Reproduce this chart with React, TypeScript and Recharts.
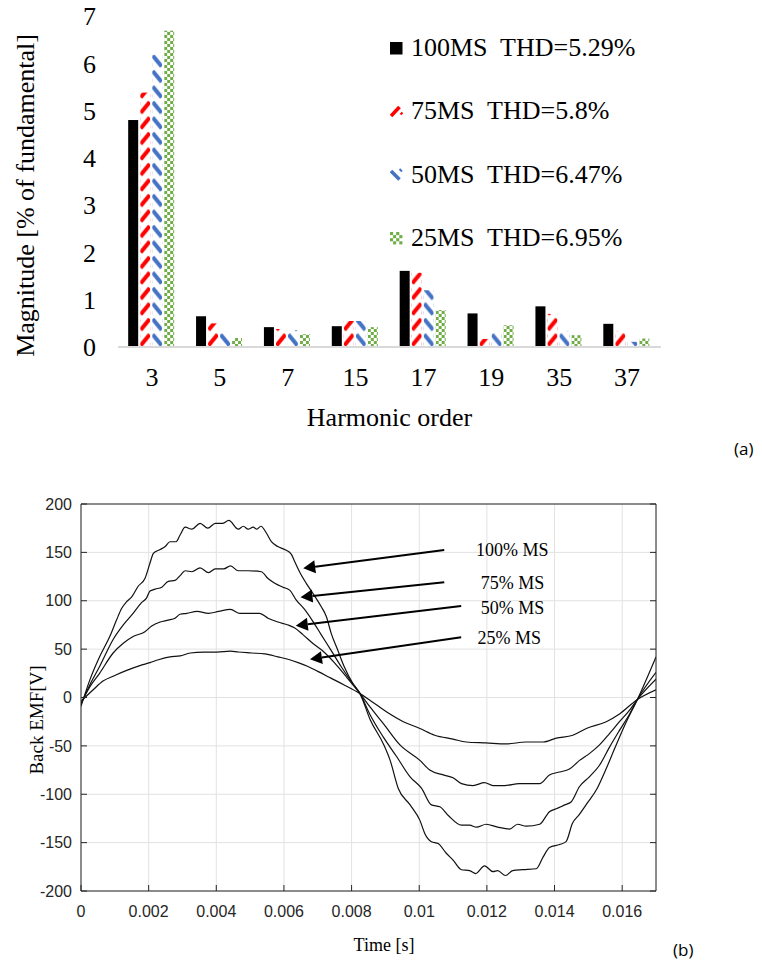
import React from 'react';
import {
  BarChart,
  Bar,
  XAxis,
  YAxis,
  LineChart,
  Line,
  CartesianGrid,
  ReferenceLine,
  ReferenceDot,
} from 'recharts';

// ---- (a) harmonic spectrum ----
const HARMONICS = ['3', '5', '7', '15', '17', '19', '35', '37'];
const MS100 = [4.8, 0.65, 0.42, 0.44, 1.61, 0.71, 0.86, 0.49];
const MS75 = [5.38, 0.5, 0.38, 0.55, 1.57, 0.17, 0.7, 0.34];
const MS50 = [6.18, 0.29, 0.36, 0.55, 1.2, 0.32, 0.34, 0.11];
const MS25 = [6.69, 0.19, 0.27, 0.42, 0.78, 0.46, 0.25, 0.18];
const Y_TICKS_A = [0, 1, 2, 3, 4, 5, 6, 7];

const SERIES = [
  { key: 'ms100', name: '100MS', thd: '5.29%', kind: 'solid' },
  { key: 'ms75', name: '75MS', thd: '5.8%', kind: 'red' },
  { key: 'ms50', name: '50MS', thd: '6.47%', kind: 'blue' },
  { key: 'ms25', name: '25MS', thd: '6.95%', kind: 'green' },
];

const barData = HARMONICS.map((h, i) => ({
  h,
  ms100: MS100[i],
  ms75: MS75[i],
  ms50: MS50[i],
  ms25: MS25[i],
}));

// ---- (b) back EMF waveforms (time in ms) ----
const W100_T = [0, 0.26, 0.55, 0.85, 1.05, 1.2, 1.35, 1.5, 1.69, 1.89, 2.04, 2.14, 2.34, 2.49, 2.63, 2.81, 2.93, 3.08, 3.28, 3.52, 3.75, 3.97, 4.18, 4.37, 4.65, 4.8, 4.94, 5.09, 5.2, 5.32, 5.48, 5.63, 5.82, 6.02, 6.22, 6.31, 6.46, 6.66, 6.85, 7.1, 7.25, 7.4, 7.59, 7.78, 8.03, 8.25, 8.55, 8.94, 9.14, 9.38, 9.73, 10.02, 10.17, 10.36, 10.56, 10.8, 11.0, 11.25, 11.49, 11.67, 11.93, 12.18, 12.32, 12.55, 12.76, 13.06, 13.46, 13.66, 13.85, 14.15, 14.34, 14.53, 14.73, 14.97, 15.26, 15.51, 15.8, 16.1, 16.45, 17.0];
const W100_V = [-9, 18, 42, 63, 80, 92, 99, 104, 115, 123, 139, 149, 153, 156, 161, 161, 168, 176, 174, 180, 175, 180, 180, 183, 174, 177, 174, 176, 174, 177, 170, 161, 156, 153, 148, 141, 130, 118, 108, 94, 84, 66, 49, 32, 15, 4, -23, -48, -65, -94, -111, -127, -141, -149, -151, -161, -168, -178, -179, -182, -174, -180, -179, -184, -179, -178, -177, -165, -155, -152, -149, -130, -121, -109, -94, -75, -51, -27, -2, 42];

const W75_T = [0, 0.26, 0.55, 0.95, 1.25, 1.54, 1.79, 1.94, 2.04, 2.19, 2.39, 2.58, 2.78, 2.93, 3.08, 3.28, 3.52, 3.77, 3.97, 4.22, 4.42, 4.65, 4.94, 5.33, 5.53, 5.73, 5.97, 6.17, 6.36, 6.61, 6.85, 7.1, 7.39, 7.69, 7.98, 8.25, 8.55, 8.94, 9.33, 9.73, 10.07, 10.36, 10.61, 10.86, 11.25, 11.49, 11.69, 11.98, 12.32, 12.67, 12.91, 13.16, 13.56, 13.85, 14.05, 14.3, 14.49, 14.74, 15.03, 15.33, 15.63, 15.92, 16.22, 16.45, 17.0];
const W75_V = [-7, 13, 32, 60, 75, 87, 98, 103, 110, 112, 114, 120, 121, 126, 131, 130, 134, 129, 133, 133, 136, 131, 131, 130, 123, 118, 114, 111, 101, 91, 79, 65, 49, 32, 17, 4, -18, -41, -61, -82, -94, -111, -113, -122, -132, -132, -134, -131, -134, -136, -131, -133, -131, -118, -115, -111, -108, -92, -82, -70, -51, -34, -17, -2, 26];

const W50_T = [0, 0.26, 0.55, 0.95, 1.25, 1.54, 1.89, 2.09, 2.34, 2.58, 2.78, 2.93, 3.13, 3.43, 3.77, 4.07, 4.42, 4.7, 5.04, 5.28, 5.53, 5.82, 6.12, 6.31, 6.56, 6.85, 7.15, 7.49, 7.83, 8.25, 8.55, 8.94, 9.43, 10.02, 10.31, 10.71, 11.0, 11.25, 11.59, 11.93, 12.18, 12.52, 12.96, 13.56, 13.85, 14.15, 14.44, 14.74, 15.03, 15.33, 15.63, 15.92, 16.22, 16.45, 17.0];
const W50_V = [-6, 11, 25, 46, 56, 63, 68, 74, 78, 80, 82, 86, 87, 89, 87, 89, 91, 87, 87, 87, 82, 78, 75, 72, 65, 56, 48, 36, 22, 4, -10, -27, -49, -65, -75, -80, -83, -89, -91, -88, -91, -91, -89, -89, -80, -77, -74, -65, -58, -49, -37, -25, -13, -2, 19];

const W25_T = [0, 0.36, 0.65, 0.95, 1.35, 1.74, 2.04, 2.29, 2.63, 2.93, 3.23, 3.62, 4.02, 4.42, 4.65, 5.04, 5.43, 5.82, 6.17, 6.42, 6.71, 7.0, 7.39, 7.78, 8.25, 8.55, 9.04, 9.53, 10.02, 10.46, 11.0, 11.39, 11.98, 12.57, 13.16, 13.66, 14.05, 14.54, 14.94, 15.53, 15.92, 16.45, 17.0];
const W25_V = [-4, 8, 17, 22, 28, 33, 36, 39, 42, 43, 46, 47, 47, 48, 47, 46, 45, 42, 39, 36, 32, 27, 20, 13, 4, -3, -15, -25, -32, -39, -43, -46, -47, -48, -46, -46, -42, -39, -32, -25, -17, -2, 8];

const X_TICKS_B = [0, 2, 4, 6, 8, 10, 12, 14, 16];
const X_TICK_LABELS_B = ['0', '0.002', '0.004', '0.006', '0.008', '0.01', '0.012', '0.014', '0.016'];
const Y_TICKS_B = [-200, -150, -100, -50, 0, 50, 100, 150, 200];

// annotation arrows (data coords: ms, V)
const NOTE_LABELS = ['100% MS', '75% MS', '50% MS', '25% MS'];
const NOTE_T = [12.75, 12.76, 12.76, 12.66];
const NOTE_V = [152.5, 119.1, 93.2, 62.2];
const ARROW_FROM_T = [10.74, 10.74, 11.24, 11.24];
const ARROW_FROM_V = [152.5, 119, 94.6, 62.2];
const ARROW_TO_T = [6.57, 6.49, 6.35, 6.77];
const ARROW_TO_V = [133.5, 103.6, 74.2, 39.5];

const toPoints = (ts: number[], vs: number[]) => ts.map((t, i) => ({ t, v: vs[i] }));
const WAVES = [
  { key: 'w100', data: toPoints(W100_T, W100_V) },
  { key: 'w75', data: toPoints(W75_T, W75_V) },
  { key: 'w50', data: toPoints(W50_T, W50_V) },
  { key: 'w25', data: toPoints(W25_T, W25_V) },
];

const SERIF = '"Liberation Serif", "Times New Roman", serif';
const SANS = '"Liberation Sans", Arial, sans-serif';
const RED = '#FF0000';
const BLUE = '#4472C4';
const GREEN = '#70AD47';

const HatchBar = (props: any) => {
  const { x, y, width, height, index, kind } = props;
  if (!height || height <= 0) return null;
  if (kind === 'solid') return <rect x={x} y={y} width={width} height={height} fill="#000" />;
  const id = `hatch-${kind}-${index}`;
  const bottom = y + height;
  let pat;
  if (kind === 'red') {
    pat = (
      <pattern id={id} patternUnits="userSpaceOnUse" x={x} y={bottom} width={width} height={15.5}>
        <line x1={0.5} y1={14} x2={width - 0.5} y2={3} stroke={RED} strokeWidth={4} />
      </pattern>
    );
  } else if (kind === 'blue') {
    pat = (
      <pattern id={id} patternUnits="userSpaceOnUse" x={x} y={bottom} width={width} height={15.5}>
        <line x1={0.5} y1={3} x2={width - 0.5} y2={14} stroke={BLUE} strokeWidth={4} />
      </pattern>
    );
  } else {
    pat = (
      <pattern id={id} patternUnits="userSpaceOnUse" x={x} y={bottom} width={6} height={6}>
        <rect x={0} y={0} width={3} height={3} fill={GREEN} />
        <rect x={3} y={3} width={3} height={3} fill={GREEN} />
      </pattern>
    );
  }
  return (
    <g>
      <defs>{pat}</defs>
      <rect x={x} y={y} width={width} height={height} fill={`url(#${id})`} />
    </g>
  );
};

const LegendIcon = ({ kind }: { kind: string }) => {
  if (kind === 'solid') return <rect x={0} y={0} width={12.5} height={12.5} fill="#000" />;
  if (kind === 'red')
    return (
      <g>
        <line x1={1} y1={11} x2={9.5} y2={2} stroke={RED} strokeWidth={3.6} />
        <line x1={10.5} y1={9.5} x2={12.5} y2={7.5} stroke={RED} strokeWidth={2} />
      </g>
    );
  if (kind === 'blue')
    return (
      <g>
        <line x1={1} y1={3} x2={9.5} y2={11.5} stroke={BLUE} strokeWidth={3.6} />
        <line x1={9.5} y1={1} x2={12} y2={3.5} stroke={BLUE} strokeWidth={2} />
      </g>
    );
  const cells = [];
  for (let r = 0; r < 4; r++)
    for (let c = 0; c < 4; c++)
      if ((r + c) % 2 === 0) cells.push(<rect key={`${r}-${c}`} x={c * 3.1} y={r * 3.1} width={3.1} height={3.1} fill={GREEN} />);
  return <g>{cells}</g>;
};

const SpectrumLegend = () => (
  <div style={{ fontFamily: SERIF, fontSize: 26, color: '#000' }}>
    {SERIES.map((s) => (
      <div key={s.key} style={{ height: 63.3, display: 'flex', alignItems: 'center', whiteSpace: 'pre' }}>
        <svg width={13} height={13} style={{ marginRight: 8 }}>
          <LegendIcon kind={s.kind} />
        </svg>
        <span>{`${s.name}  THD=${s.thd}`}</span>
      </div>
    ))}
  </div>
);

const AxisTitle = (props: any) => {
  const { viewBox, text, dx = 0, dy = 0, size, rotate } = props;
  if (!viewBox) return null;
  const cx = rotate ? viewBox.x + dx : viewBox.x + viewBox.width / 2 + dx;
  const cy = rotate ? viewBox.y + viewBox.height / 2 + dy : viewBox.y + dy;
  return (
    <text
      x={cx}
      y={cy}
      transform={rotate ? `rotate(-90 ${cx} ${cy})` : undefined}
      textAnchor="middle"
      dominantBaseline="central"
      fontFamily={SERIF}
      fontSize={size}
      fill="#000"
    >
      {text}
    </text>
  );
};

const Arrow = (props: any) => {
  const { x1, y1, x2, y2 } = props;
  if ([x1, y1, x2, y2].some((v) => typeof v !== 'number')) return null;
  const dx = x2 - x1;
  const dy = y2 - y1;
  const len = Math.hypot(dx, dy) || 1;
  const ux = dx / len;
  const uy = dy / len;
  const hl = 12;
  const hw = 6.5;
  const bx = x2 - ux * hl;
  const by = y2 - uy * hl;
  const pts = `${x2},${y2} ${bx - uy * hw},${by + ux * hw} ${bx + uy * hw},${by - ux * hw}`;
  return (
    <g>
      <line x1={x1} y1={y1} x2={bx} y2={by} stroke="#000" strokeWidth={2} />
      <polygon points={pts} fill="#000" />
    </g>
  );
};

const noTick = () => <g />;

export default function App() {
  return (
    <div style={{ position: 'relative', width: 762, height: 964, background: '#fff' }}>
      <style>{'body{margin:0}'}</style>

      <div style={{ position: 'absolute', left: 0, top: 0 }}>
        <BarChart
          width={762}
          height={440}
          data={barData}
          margin={{ top: 16, right: 101, left: 0, bottom: 0 }}
          barCategoryGap="15%"
          barGap={2}
        >
          <XAxis
            dataKey="h"
            height={93}
            interval={0}
            axisLine={{ stroke: '#d9d9d9', strokeWidth: 2 }}
            tickLine={false}
            tickSize={0}
            tickMargin={21}
            tick={{ fill: '#000', fontSize: 26, fontFamily: SERIF }}
            label={<AxisTitle text="Harmonic order" dy={70} size={26} />}
          />
          <YAxis
            width={118}
            domain={[0, 7]}
            ticks={Y_TICKS_A}
            interval={0}
            allowDataOverflow
            axisLine={false}
            tickLine={false}
            tickSize={0}
            tickMargin={22}
            tick={{ fill: '#000', fontSize: 26, fontFamily: SERIF }}
            label={<AxisTitle text="Magnitude [% of fundamental]" rotate dx={25} dy={14} size={26} />}
          />
          {SERIES.map((s) => (
            <Bar
              key={s.key}
              dataKey={s.key}
              name={s.name}
              isAnimationActive={false}
              shape={(p: any) => <HatchBar {...p} kind={s.kind} />}
            />
          ))}
        </BarChart>
      </div>

      <div style={{ position: 'absolute', left: 390, top: 16.5, width: 340 }}>
        <SpectrumLegend />
      </div>

      <div style={{ position: 'absolute', left: 734, top: 437, fontFamily: '"Open Sans", sans-serif', fontSize: 17 }}>(a)</div>

      <div style={{ position: 'absolute', left: 0, top: 480 }}>
        <LineChart width={762} height={484} margin={{ top: 23, right: 105, left: 0, bottom: 0 }}>
          <CartesianGrid stroke="#e2e2e2" />
          <XAxis
            type="number"
            dataKey="t"
            domain={[0, 17]}
            ticks={X_TICKS_B}
            allowDataOverflow
            tickFormatter={(v: number, i: number) => X_TICK_LABELS_B[i]}
            height={73}
            axisLine={{ stroke: '#262626' }}
            tickLine={{ stroke: '#262626' }}
            tickSize={-6}
            tickMargin={21}
            tick={{ fill: '#262626', fontSize: 16, fontFamily: SANS }}
            label={<AxisTitle text="Time [s]" dx={15.5} dy={54} size={18} />}
          />
          <XAxis
            xAxisId="top"
            orientation="top"
            type="number"
            domain={[0, 17]}
            ticks={X_TICKS_B}
            allowDataOverflow
            height={1}
            axisLine={{ stroke: '#262626' }}
            tickLine={{ stroke: '#262626' }}
            tickSize={-6}
            tick={noTick}
          />
          <YAxis
            width={81}
            domain={[-200, 200]}
            ticks={Y_TICKS_B}
            allowDataOverflow
            axisLine={{ stroke: '#262626' }}
            tickLine={{ stroke: '#262626' }}
            tickSize={-6}
            tickMargin={15}
            tick={{ fill: '#262626', fontSize: 16, fontFamily: SANS }}
            label={<AxisTitle text="Back EMF[V]" rotate dx={36} dy={22.5} size={19} />}
          />
          <YAxis
            yAxisId="right"
            orientation="right"
            width={1}
            domain={[-200, 200]}
            ticks={Y_TICKS_B}
            allowDataOverflow
            axisLine={{ stroke: '#262626' }}
            tickLine={{ stroke: '#262626' }}
            tickSize={-6}
            tick={noTick}
          />
          {WAVES.map((w) => (
            <Line
              key={w.key}
              data={w.data}
              dataKey="v"
              type="monotone"
              dot={false}
              stroke="#111"
              strokeWidth={1.2}
              isAnimationActive={false}
            />
          ))}
          {NOTE_LABELS.map((lab, i) => (
            <ReferenceLine
              key={`arrow-${lab}`}
              segment={[
                { x: ARROW_FROM_T[i], y: ARROW_FROM_V[i] },
                { x: ARROW_TO_T[i], y: ARROW_TO_V[i] },
              ]}
              shape={Arrow}
            />
          ))}
          {NOTE_LABELS.map((lab, i) => (
            <ReferenceDot
              key={`note-${lab}`}
              x={NOTE_T[i]}
              y={NOTE_V[i]}
              r={0}
              fill="none"
              stroke="none"
              label={{ value: lab, position: 'center', fill: '#000', fontSize: 18, fontFamily: SERIF }}
            />
          ))}
        </LineChart>
      </div>

      <div style={{ position: 'absolute', left: 673, top: 938, fontFamily: '"Open Sans", sans-serif', fontSize: 17 }}>(b)</div>
    </div>
  );
}
